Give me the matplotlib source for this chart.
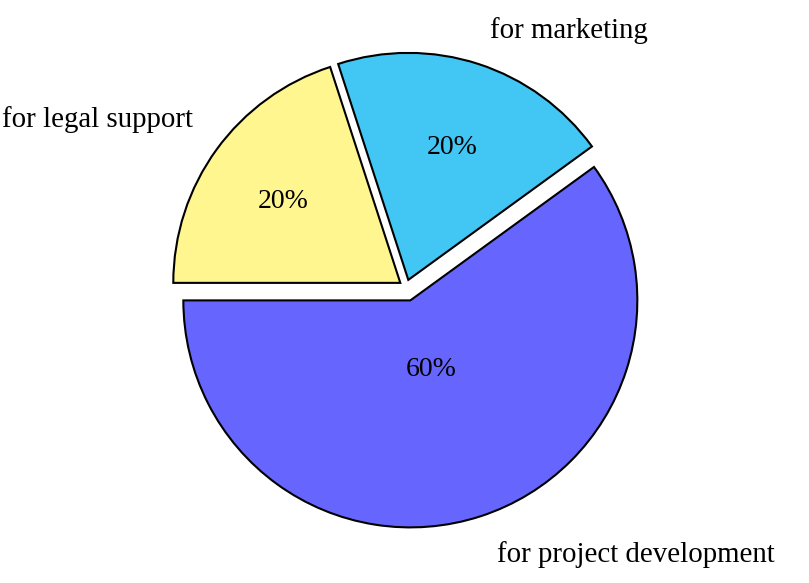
import matplotlib
matplotlib.use('Agg')
import matplotlib.pyplot as plt

# budget split
labels = ['for project development', 'for marketing', 'for legal support']
shares = [60, 20, 20]
colors = ['#6666FF', '#42C6F4', '#FFF68F']
explode = [0.062, 0.033, 0.031]

# where the texts sit (data units, pie radius = 1)
label_pos = [(0.401, -1.210, 'left'), (0.370, 1.096, 'left'), (-0.938, 0.706, 'right')]
pct_pos = [(0.110, -0.394), (0.203, 0.586), (-0.540, 0.346)]

plt.rcParams['font.family'] = ['Liberation Serif', 'DejaVu Serif']

fig = plt.figure(figsize=(8.09, 5.83), dpi=100)
ax = fig.add_axes([0.1511, 0.0210, 0.7015, 0.9734])

wedges, texts, autotexts = ax.pie(shares, labels=labels, colors=colors, explode=explode,
                                  startangle=180, counterclock=True, autopct='%d%%',
                                  wedgeprops={'edgecolor': 'black', 'linewidth': 1.5},
                                  textprops={'fontsize': 20})

for t, (x, y, ha) in zip(texts, label_pos):
    t.set_position((x, y))
    t.set_ha(ha)
    t.set_va('baseline')
    t.set_fontsize(20.8)

for t, (x, y) in zip(autotexts, pct_pos):
    t.set_position((x, y))
    t.set_ha('center')
    t.set_va('baseline')

ax.set_xlim(-1.25, 1.25)
ax.set_ylim(-1.25, 1.25)

fig.savefig('out.png', dpi=100)
